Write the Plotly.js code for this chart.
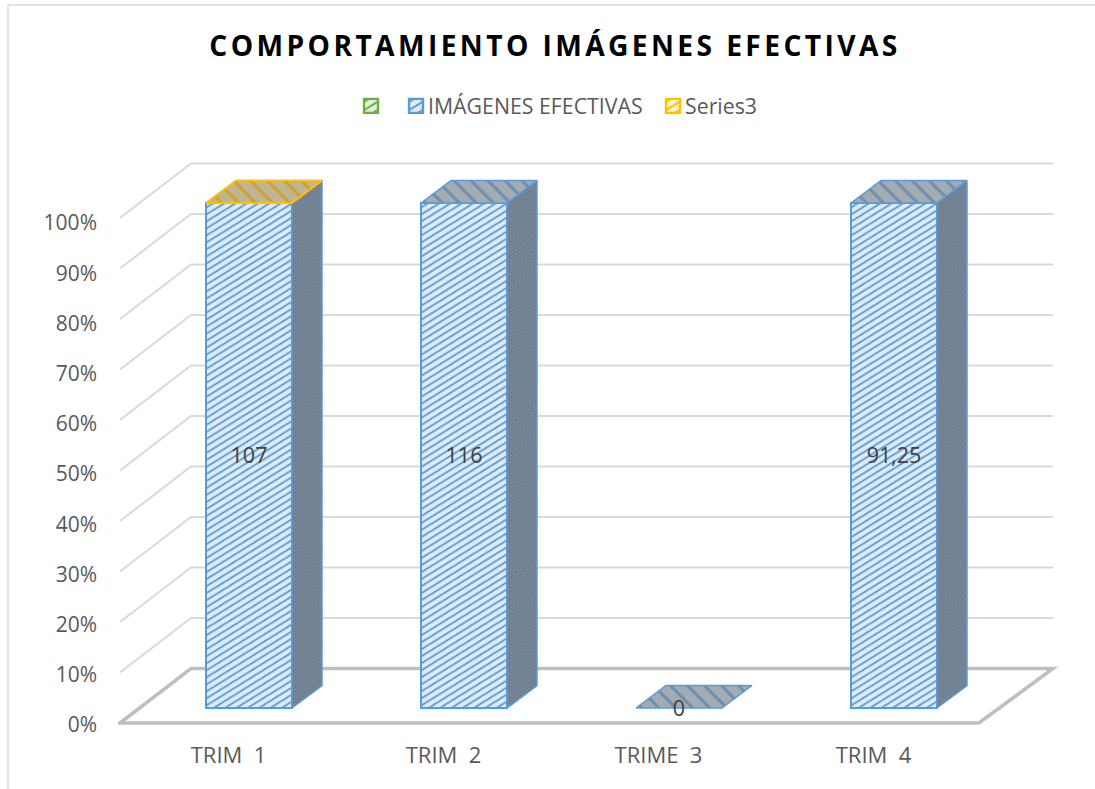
<!DOCTYPE html>
<html><head><meta charset="utf-8">
<script src="https://cdn.plot.ly/plotly-3.0.1.min.js"></script>
<style>html,body{margin:0;padding:0;background:#fff;overflow:hidden}#chart{width:1095px;height:789px}</style>
</head><body><div id="chart"></div>
<script>
const chartTitle = 'COMPORTAMIENTO IMÁGENES EFECTIVAS';
const categories = ['TRIM  1', 'TRIM  2', 'TRIME  3', 'TRIM  4'];
const seriesGreen = [0, 0, 0, 0];
const seriesEfectivas = [107, 116, 0, 91.25];
const seriesThree = [0, 0, 0, 0];
const capOwner = ['Series3', 'IMÁGENES EFECTIVAS', 'IMÁGENES EFECTIVAS', 'IMÁGENES EFECTIVAS'];
const yTicks = [0,10,20,30,40,50,60,70,80,90,100];

// projection of the 3-D look, in axis units
const pxX = 215, pxY = 5.05;
const barW = 86/pxX, barBase = 15/pxY, barDx = 30/pxX, barDy = 22.5/pxY;
const wallDx = 71/pxX, wallDy = 54.5/pxY;
const xMin = -131/pxX, xMax = 813/pxX, yMin = -7/pxY, yMax = 573/pxY;
const floorRight = (979-249)/pxX;
const wallRight = (1053-249)/pxX;

const idx = categories.map((_, i) => i);
const totals = idx.map(i => seriesGreen[i] + seriesEfectivas[i] + seriesThree[i]);
const shares = idx.map(i => totals[i] ? seriesEfectivas[i] / totals[i] * 100 : 0);
const labels = seriesEfectivas.map(v => String(v).replace('.', ','));

const BLUE = '#5B9BD5', YEL = '#FFC000', GRN = '#70AD47';
function barTrace(name, vals, line, bg, fg) {
  return {type:'bar', name, x:idx, y:vals.map(v => v || null), base:idx.map(()=>barBase), width:barW,
    marker:{color:bg, line:{color:line,width:2}, pattern:{shape:'/', bgcolor:bg, fgcolor:fg, size:8, solidity:0.3, fillmode:'replace'}},
    hoverinfo:'skip'};
}
const traces = [
  barTrace(' ', seriesGreen, GRN, '#E2F0D9', GRN),
  barTrace('IMÁGENES EFECTIVAS', shares, BLUE, '#DEEBF7', BLUE),
  barTrace('Series3', seriesThree, YEL, '#FFF2CC', YEL),
];
function face(xs, ys, line, lw, bg, fg, shape, size, sol) {
  traces.push({type:'scatter', mode:'lines', x:xs, y:ys, fill:'toself', showlegend:false, hoverinfo:'skip',
    line:{color:line,width:lw}, fillcolor:bg,
    fillpattern:{shape, bgcolor:bg, fgcolor:fg, size, solidity:sol, fillmode:'replace'}});
}
idx.forEach(i => {
  const L = i - barW/2, R = i + barW/2, B = barBase, T = barBase + shares[i];
  if (shares[i] > 0) {
    face([R,R+barDx,R+barDx,R,R],[B,B+barDy,T+barDy,T,B], BLUE, 1.5, '#7F8FA0', '#5F7083', '/', 2.5, 0.4);
  }
  const y3 = capOwner[i] === 'Series3';
  face([L,R,R+barDx,L+barDx,L],[T,T,T+barDy,T+barDy,T], y3?YEL:BLUE, y3?2:1.5,
       y3?'#BFB595':'#A3ABB3', y3?'#CFA02E':'#6C8FB0', '\\', 12, 0.25);
});
traces.push({type:'scatter', mode:'text', x:idx, y:shares.map(s=>barBase+s/2-2.5/pxY), text:labels, showlegend:false,
  hoverinfo:'skip', textposition:'middle center', cliponaxis:false,
  textfont:{family:'Open Sans, sans-serif', size:21.5, color:'#404040'}});

const gridShapes = [];
yTicks.filter(t=>t>0).forEach(t => {
  gridShapes.push({type:'path', layer:'below', xref:'x', yref:'y',
    path:`M${xMin+2/pxX},${t} L${xMin+2/pxX+wallDx},${t+wallDy} L${wallRight},${t+wallDy}`,
    line:{color:'#D9D9D9',width:2}});
});
gridShapes.push({type:'path', layer:'below', xref:'x', yref:'y',
  path:`M${xMin+2/pxX},0 L${xMin+2/pxX+wallDx},${wallDy} L${wallRight},${wallDy} L${floorRight},0 Z`,
  line:{color:'#BFBFBF',width:3.5}});
// outer chart frame (left and top edges), in paper fractions
const pw = 944, ph = 580, l = 118, t = 150;
const fx = p => (p-l)/pw, fy = p => (t+ph-p)/ph;
gridShapes.push({type:'line', xref:'paper', yref:'paper', x0:fx(8), x1:fx(8), y0:fy(5), y1:fy(789), line:{color:'#D9D9D9',width:1.5}});
gridShapes.push({type:'line', xref:'paper', yref:'paper', x0:fx(8), x1:fx(1095), y0:fy(5), y1:fy(5), line:{color:'#D9D9D9',width:1.5}});

const layout = {
  width:1095, height:789, paper_bgcolor:'#fff', plot_bgcolor:'rgba(0,0,0,0)',
  margin:{l:l, r:1095-l-pw, t:t, b:789-t-ph, autoexpand:false},
  barmode:'overlay', showlegend:true,
  title:{text:'<b>'+chartTitle+'</b>', x:555/1095, xref:'container', xanchor:'center', y:1-46/789, yref:'container', yanchor:'middle',
    font:{family:'Open Sans, sans-serif', size:28.2, color:'#000'}},
  legend:{orientation:'h', x:fx(560), xanchor:'center', y:fy(106), yanchor:'middle', bgcolor:'rgba(0,0,0,0)',
    font:{family:'Open Sans, sans-serif', size:21.3, color:'#595959'}, itemwidth:30, traceorder:'normal'},
  xaxis:{range:[xMin,xMax], tickvals:idx.map(i=>i-20.5/pxX), ticktext:categories, showgrid:false, zeroline:false, showline:false,
    ticks:'', ticklabelstandoff:10, tickfont:{family:'Open Sans, sans-serif', size:22, color:'#595959'}, fixedrange:true},
  yaxis:{range:[yMin,yMax], tickvals:yTicks.map(v=>v*0.994-0.4), ticktext:yTicks.map(v=>v+'%'), showgrid:false, zeroline:false, showline:false,
    ticks:'', ticklabelstandoff:20, tickfont:{family:'Open Sans, sans-serif', size:21, color:'#595959'}, fixedrange:true},
  shapes:gridShapes
};
const swatchCenters = [371, 416, 673];
Plotly.newPlot('chart', traces, layout, {displayModeBar:false, staticPlot:true}).then(() => {
  const tt = document.querySelector('.gtitle');
  if (tt) tt.style.letterSpacing = '3.4px';
  document.querySelectorAll('pattern').forEach(p => {
    const w = parseFloat(p.getAttribute('width'));
    if (w > 11 && w < 11.6) p.setAttribute('patternTransform','scale(1,0.62)');
  });
  // fine placement of the legend entries
  const sb = document.querySelector('.legend .scrollbox');
  if (sb) sb.removeAttribute('clip-path');
  document.querySelectorAll('.legend .traces').forEach((g, i) => {
    const path = g.querySelector('.legendpoints path');
    const txt = g.querySelector('text.legendtext');
    if (txt) txt.setAttribute('x', parseFloat(txt.getAttribute('x')) - 8);
    if (path) {
      const prev = path.getAttribute('transform') || '';
      path.setAttribute('transform', prev + ' scale(1.17)');
      const r = path.getBoundingClientRect();
      const delta = swatchCenters[i] - (r.left + r.width/2);
      const m = /translate\(([-\d.]+)[ ,]+([-\d.]+)\)/.exec(g.getAttribute('transform') || 'translate(0,0)');
      g.setAttribute('transform', `translate(${parseFloat(m[1])+delta},${m[2]})`);
    }
  });
});
</script></body></html>
